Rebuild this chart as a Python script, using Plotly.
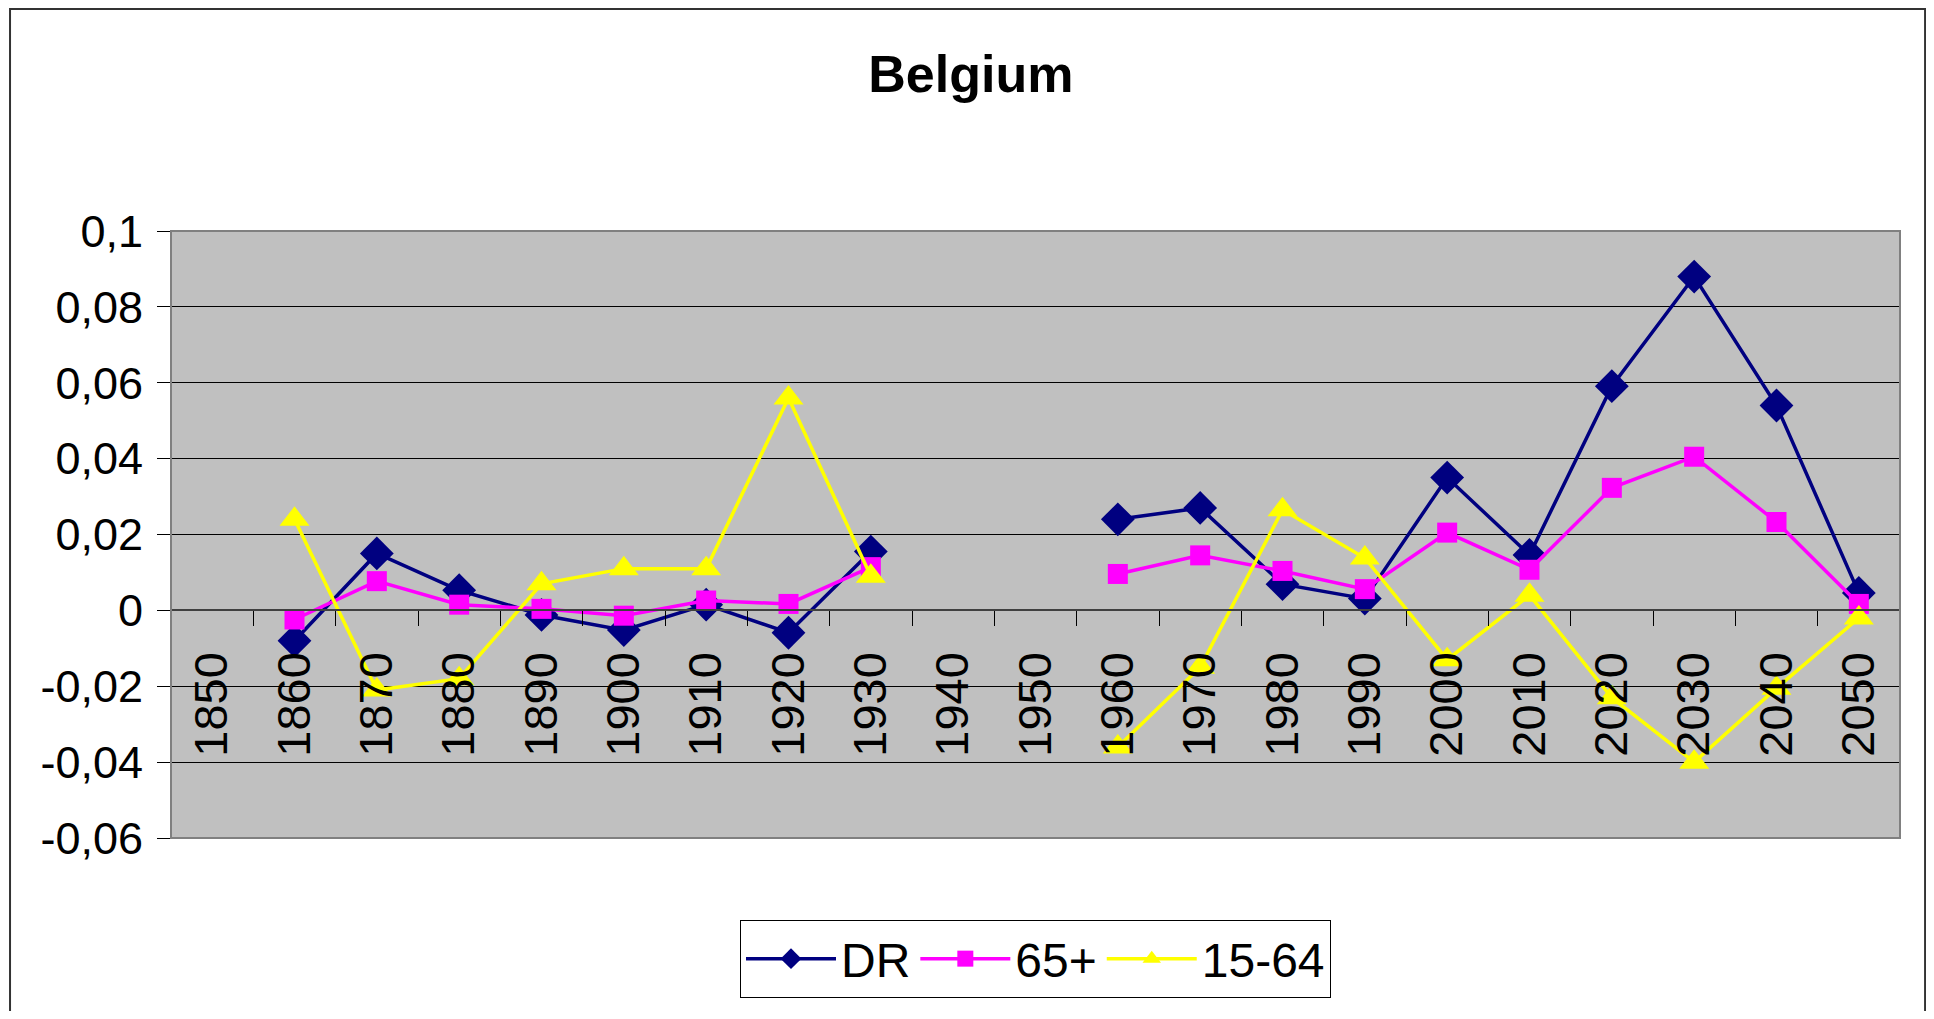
import plotly.graph_objects as go

# categories (decades) and the three series; None = no data for that decade
years = ['1850', '1860', '1870', '1880', '1890', '1900', '1910', '1920', '1930', '1940',
         '1950', '1960', '1970', '1980', '1990', '2000', '2010', '2020', '2030', '2040', '2050']
dr = [None, -0.008, 0.015, 0.0053, -0.0012, -0.0052, 0.0015, -0.0059, 0.0155, None,
      None, 0.024, 0.027, 0.0069, 0.0031, 0.035, 0.0146, 0.0591, 0.088, 0.054, 0.0046]
old = [None, -0.0024, 0.0077, 0.0015, 0.0004, -0.0014, 0.0026, 0.0017, 0.0114, None,
       None, 0.0096, 0.0145, 0.0104, 0.0056, 0.0205, 0.0107, 0.0323, 0.0405, 0.0233, 0.0017]
working = [None, 0.024, -0.021, -0.018, 0.007, 0.011, 0.011, 0.056, 0.009, None,
           None, -0.036, -0.015, 0.0265, 0.0138, -0.013, 0.004, -0.023, -0.040, -0.0205, -0.002]

y_ticks = [0.1, 0.08, 0.06, 0.04, 0.02, 0, -0.02, -0.04, -0.06]
y_labels = ['0,1', '0,08', '0,06', '0,04', '0,02', '0', '-0,02', '-0,04', '-0,06']

font_main = 'Liberation Sans Narrow, Arial Narrow, Liberation Sans, Arial, sans-serif'

fig = go.Figure()
fig.add_trace(go.Scatter(x=years, y=dr, name='DR', mode='lines+markers',
                         line=dict(color='#000080', width=3.5),
                         marker=dict(symbol='diamond', size=26, color='#000080')))
fig.add_trace(go.Scatter(x=years, y=old, name='65+', mode='lines+markers',
                         line=dict(color='#FF00FF', width=3.5),
                         marker=dict(symbol='square', size=20, color='#FF00FF')))
fig.add_trace(go.Scatter(x=years, y=working, name='15-64', mode='lines+markers',
                         line=dict(color='#FFFF00', width=3.5),
                         marker=dict(symbol='triangle-up', size=26, color='#FFFF00')))

# figure kept 16px smaller than the window so the page body margin gives no scrollbars
fig.update_layout(
    width=1918, height=1003,
    margin=dict(l=163, r=26, t=223, b=173),
    paper_bgcolor='white', plot_bgcolor='#C0C0C0',
    font=dict(family=font_main, color='black'),
    title=dict(text='<b>Belgium</b>', x=0.502, xref='container', y=0.934, yref='container',
               xanchor='center', yanchor='middle', font=dict(size=52)),
    showlegend=True,
    legend=dict(orientation='h', x=0.5, xanchor='center', y=-0.135, yanchor='top',
                bordercolor='black', borderwidth=1, bgcolor='white',
                font=dict(size=48), itemwidth=90),
)

# category axis sits on the zero line (0 is 37.5% up the y range)
fig.update_xaxes(type='category', categoryorder='array', categoryarray=years,
                 range=[-0.5, 20.5], tickson='boundaries', ticks='outside', ticklen=15,
                 tickcolor='black', tickwidth=1, showline=True, linecolor='#404040', linewidth=2,
                 anchor='free', position=0.375, tickangle=-90, tickfont=dict(size=47),
                 ticklabelstandoff=22, showgrid=False, zeroline=False)
fig.update_yaxes(range=[-0.06, 0.1], tickvals=y_ticks, ticktext=y_labels,
                 ticks='outside', ticklen=13, tickcolor='black', showline=True,
                 linecolor='#333333', linewidth=1, gridcolor='black', gridwidth=1,
                 zeroline=False, tickfont=dict(size=45), ticklabelstandoff=5)

# plot area border and outer chart frame
fig.add_shape(type='rect', xref='paper', yref='paper', x0=0, x1=1, y0=0, y1=1,
              line=dict(color='#808080', width=2))
fig.add_shape(type='rect', xref='paper', yref='paper', x0=-0.0931, x1=1.0145, y0=-0.4, y1=1.3657,
              line=dict(color='#333333', width=2))

fig.write_html('out.html')
